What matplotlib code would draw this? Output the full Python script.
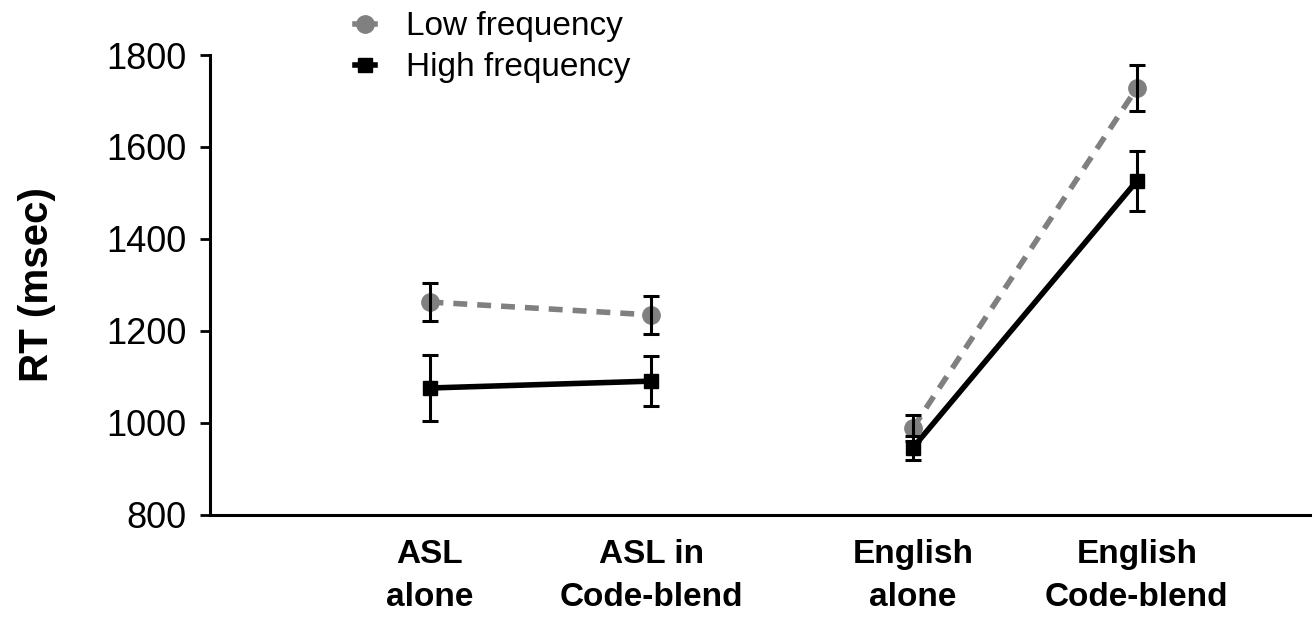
import matplotlib
matplotlib.use("Agg")
import matplotlib.pyplot as plt
from matplotlib.lines import Line2D

categories = ["ASL\nalone", "ASL in\nCode-blend", "English\nalone", "English\nCode-blend"]
x_pos = [1, 2, 3.18, 4.19]
low_freq = [1263, 1235, 989, 1728]
low_err = [42, 42, 28, 50]
high_freq = [1076, 1091, 946, 1526]
high_err = [72, 54, 26, 65]
yticks = [800, 1000, 1200, 1400, 1600, 1800]

plt.rcParams['font.family'] = ['Liberation Sans', 'DejaVu Sans']

fig = plt.figure(figsize=(13.15, 6.18), dpi=100)
ax = fig.add_axes([0.1597, 0.1667, 0.8363, 0.7443])

gray = '#808080'
# Low frequency (dashed gray)
ax.plot(x_pos[:2], low_freq[:2], color=gray, lw=4, linestyle=(0, (2.5, 1.8)), zorder=2)
ax.plot(x_pos[2:], low_freq[2:], color=gray, lw=4, linestyle=(0, (2.5, 1.8)), zorder=2)
ax.plot(x_pos, low_freq, 'o', color=gray, ms=12.5, zorder=3)
ax.errorbar(x_pos, low_freq, yerr=low_err, fmt='none', ecolor='black', elinewidth=2.2,
            capsize=6, capthick=2.2, zorder=5)
# High frequency (solid black)
ax.plot(x_pos[:2], high_freq[:2], color='black', lw=4, zorder=2)
ax.plot(x_pos[2:], high_freq[2:], color='black', lw=4, zorder=2)
ax.plot(x_pos, high_freq, 's', color='black', ms=10.5, zorder=3)
ax.errorbar(x_pos, high_freq, yerr=high_err, fmt='none', ecolor='black', elinewidth=2.2,
            capsize=6, capthick=2.2, zorder=5)

ax.set_xlim(0.01, 4.97)
ax.set_ylim(800, 1800)
ax.set_yticks(yticks)
ax.set_yticklabels([str(v) for v in yticks], fontsize=26)
ax.tick_params(axis='y', direction='out', length=7, width=2, pad=10)
ax.set_xticks(x_pos)
ax.set_xticklabels(categories, fontsize=24, fontweight='bold', linespacing=1.5)
ax.tick_params(axis='x', length=0, pad=17)
for s in ['top', 'right']:
    ax.spines[s].set_visible(False)
for s in ['left', 'bottom']:
    ax.spines[s].set_linewidth(2.2)
ax.set_ylabel("RT (msec)", fontsize=29, fontweight='bold', labelpad=36)

handles = [
    Line2D([0], [0], color=gray, lw=4, marker='o', ms=12.5),
    Line2D([0], [0], color='black', lw=4, marker='s', ms=10.5),
]
fig.legend(handles, ["Low frequency", "High frequency"], loc='upper left',
           bbox_to_anchor=(0.247, 1.03), frameon=False, fontsize=24,
           handlelength=0.6, handletextpad=0.95, labelspacing=0.3)

fig.savefig("out.png", dpi=100, facecolor='white')
